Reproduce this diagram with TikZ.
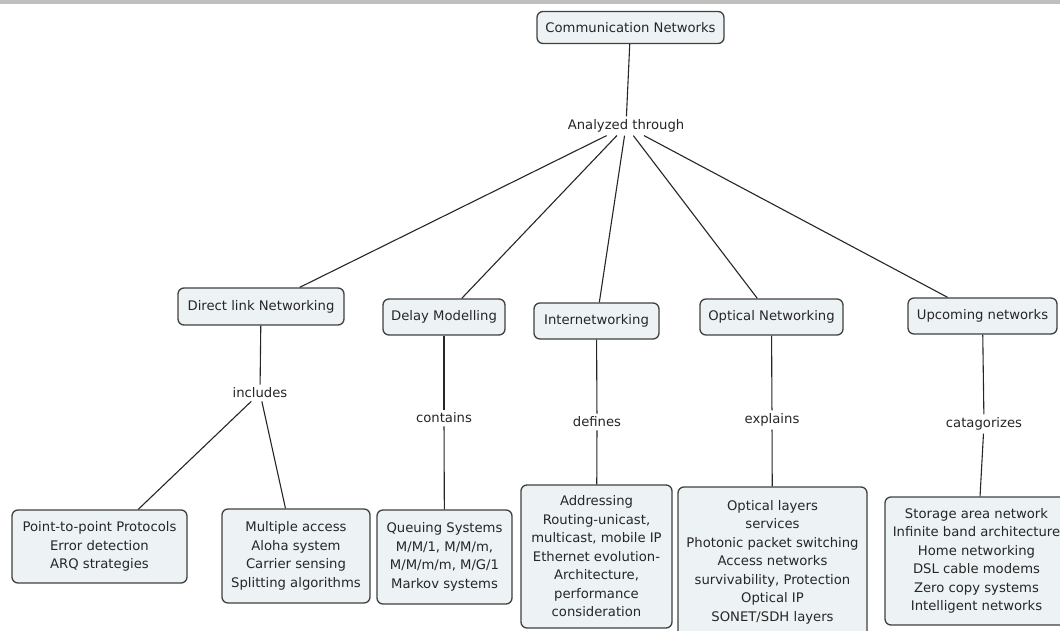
\documentclass[tikz,border=0pt]{standalone}
\usepackage{fontspec}
\setmainfont{DejaVu Sans}
\definecolor{boxfill}{HTML}{EDF2F4}
\definecolor{boxline}{HTML}{404040}
\definecolor{inkgrey}{HTML}{262626}
\definecolor{barfill}{HTML}{BFBFBF}
\begin{document}
\begin{tikzpicture}[x=1pt,y=-1pt,
  every node/.style={font=\fontsize{13.2}{18.5}\selectfont, text=inkgrey},
  concept/.style={draw=boxline, line width=1.3pt, fill=boxfill,
    rounded corners=6pt, inner sep=0pt, align=center},
  linkword/.style={inner sep=3pt, fill=white},
  link/.style={draw=inkgrey, line width=1.1pt}]
\useasboundingbox (0,0) rectangle (1060,631);
\clip (0,0) rectangle (1060,631);
\fill[barfill] (0,0) rectangle (1060,4.5);

% root concept and its linking phrase
\node[concept, minimum width=187pt, minimum height=32pt] (root) at (630.5,27.5) {Communication Networks};
\node[linkword] (anal) at (626,126) {Analyzed through};

% first level
\node[concept, minimum width=166pt, minimum height=37pt] (dl) at (261,306.5) {Direct link Networking};
\node[concept, minimum width=122pt, minimum height=36pt] (dm) at (444,317) {Delay Modelling};
\node[concept, minimum width=125pt, minimum height=36pt] (iw) at (596.5,321) {Internetworking};
\node[concept, minimum width=143pt, minimum height=36pt] (on) at (771.5,317) {Optical Networking};
\node[concept, minimum width=149pt, minimum height=36pt] (un) at (982.5,316) {Upcoming networks};

% linking phrases below the first level
\node[linkword] (inc) at (260,393) {includes};
\node[linkword] (con) at (444,418) {contains};
\node[linkword] (def) at (597,422) {defines};
\node[linkword] (exp) at (772,420) {explains};
\node[linkword] (cat) at (984,424) {catagorizes};

% leaf concepts
\node[concept, minimum width=175pt, minimum height=73pt] (p2p) at (99.5,546.5)
  {Point-to-point Protocols\\Error detection\\ARQ strategies};
\node[concept, minimum width=148pt, minimum height=94pt] (ma) at (296,556)
  {Multiple access\\Aloha system\\Carrier sensing\\Splitting algorithms};
\node[concept, minimum width=135pt, minimum height=94pt] (qs) at (444.5,557)
  {Queuing Systems\\M/M/1, M/M/m,\\M/M/m/m, M/G/1\\Markov systems};
\node[concept, minimum width=151pt, minimum height=143pt] (ad) at (596.5,556.5)
  {Addressing\\Routing-unicast,\\multicast, mobile IP\\Ethernet evolution-\\Architecture,\\performance\\consideration};
\node[concept, minimum width=189pt, minimum height=150pt] (ol) at (772.5,562)
  {Optical layers\\services\\Photonic packet switching\\Access networks\\survivability, Protection\\Optical IP\\SONET/SDH layers};
\node[concept, minimum width=183pt, minimum height=128pt] (sa) at (976.5,561)
  {Storage area network\\Infinite band architecture\\Home networking\\DSL cable modems\\Zero copy systems\\Intelligent networks};

% connectors
\path[link] (root) -- (anal);
\foreach \c in {dl,dm,iw,on,un} \path[link] (anal) -- (\c);
\path[link] (dl) -- (inc);
\path[link] (inc) -- (p2p);
\path[link] (inc) -- (ma);
\path[link] (dm) -- (con);
\path[link] (con) -- (qs);
\path[link] (iw) -- (def);
\path[link] (def) -- (ad);
\path[link] (on) -- (exp);
\path[link] (exp) -- (ol);
\path[link] (un) -- (cat);
\path[link] (cat) -- (sa);
\end{tikzpicture}
\end{document}
